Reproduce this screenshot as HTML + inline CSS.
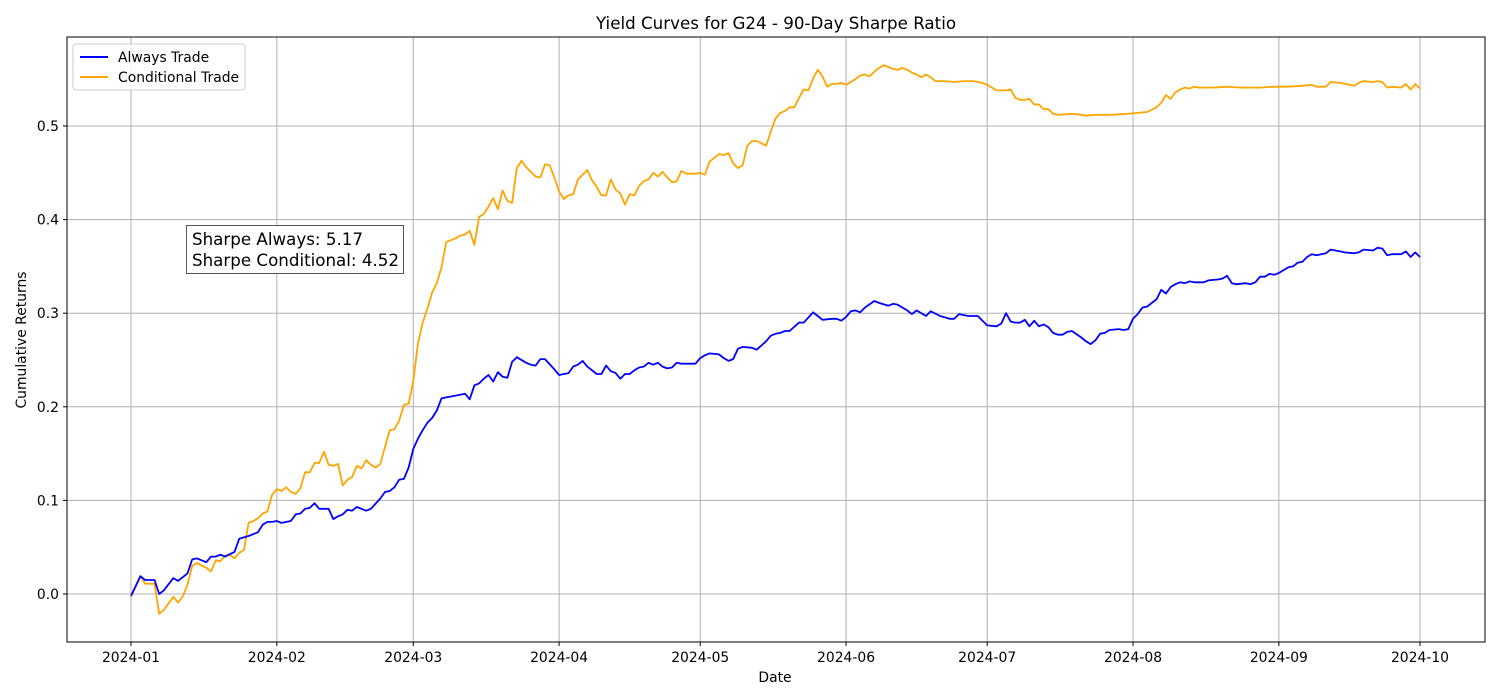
<!DOCTYPE html>
<html><head><meta charset="utf-8"><style>
body{margin:0;background:#fff;}
svg{display:block;font-family:"DejaVu Sans","Liberation Sans",sans-serif;}
</style></head><body>
<svg id="chart" width="1500" height="700" viewBox="0 0 1500 700">
<rect width="1500" height="700" fill="#fff"/>
<text x="776" y="29" font-size="16.7" text-anchor="middle" fill="#000">Yield Curves for G24 - 90-Day Sharpe Ratio</text>
<g id="grid"></g>
<g id="series"></g>
<rect x="67" y="37" width="1418" height="605" fill="none" stroke="#000" stroke-width="1"/>
<g id="ticks"></g>
<text x="775" y="682" font-size="13.9" text-anchor="middle">Date</text>
<text transform="translate(26,340) rotate(-90)" font-size="13.9" text-anchor="middle">Cumulative Returns</text>
<g>
<rect x="73" y="44" width="172" height="46" rx="3" fill="#fff" fill-opacity="0.8" stroke="#ccc"/>
<g>
<line x1="80" y1="57" x2="108" y2="57" stroke="#0000ff" stroke-width="2"/>
<text x="118" y="62" font-size="13.9">Always Trade</text></g>
<g>
<line x1="80" y1="77" x2="108" y2="77" stroke="#ffa500" stroke-width="2"/>
<text x="118" y="82" font-size="13.9">Conditional Trade</text></g>
</g>
<g>
<rect x="186.5" y="225.5" width="217" height="48" fill="#fff" stroke="#555"/>
<text x="192" y="245" font-size="16.7">Sharpe Always: 5.17</text>
<text x="192" y="266" font-size="16.7">Sharpe Conditional: 4.52</text>
</g>
</svg>
<script>
const xTickLabels=["2024-01","2024-02","2024-03","2024-04","2024-05","2024-06","2024-07","2024-08","2024-09","2024-10"];
const xTickDays=[0,31,60,91,121,152,182,213,244,274];
const yTickValues=[0,0.1,0.2,0.3,0.4,0.5];
const yTickLabels=["0.0","0.1","0.2","0.3","0.4","0.5"];
const alwaysDays=[0,2,3,5,6,7,9,10,12,13,14,16,17,18,19,20,22,23,25,27,28,29,30,31,32,34,35,36,37,38,39,40,42,43,44,45,46,47,48,50,51,53,54,55,56,57,58,59,60,61,62,63,64,65,66,67,69,71,72,73,74,75,76,77,78,79,80,81,82,84,85,86,87,88,90,91,93,94,95,96,97,99,100,101,102,103,104,105,106,107,108,109,110,111,112,113,114,115,116,117,120,121,122,123,125,126,127,128,129,130,132,133,135,136,137,138,139,140,142,143,145,146,147,149,150,151,152,153,154,155,156,158,159,161,162,163,165,166,167,169,170,172,174,175,176,178,180,181,182,184,185,186,187,188,189,190,191,192,193,194,195,196,197,198,199,200,202,203,204,205,206,207,208,210,211,212,213,214,215,216,217,218,219,220,221,222,223,224,225,226,228,229,231,232,233,234,235,237,238,239,240,241,242,243,244,245,246,247,248,249,250,251,252,254,255,257,258,260,261,262,264,265,266,267,268,270,271,272,273,274];
const alwaysValues=[-0.002,0.019,0.015,0.015,0.0,0.004,0.017,0.014,0.022,0.037,0.038,0.034,0.040,0.040,0.042,0.040,0.045,0.059,0.062,0.066,0.074,0.077,0.077,0.078,0.076,0.078,0.085,0.086,0.091,0.092,0.097,0.091,0.091,0.080,0.083,0.085,0.090,0.089,0.093,0.089,0.091,0.102,0.109,0.110,0.114,0.122,0.123,0.135,0.155,0.166,0.175,0.183,0.188,0.196,0.209,0.210,0.212,0.214,0.208,0.223,0.225,0.230,0.234,0.227,0.237,0.232,0.231,0.248,0.253,0.247,0.245,0.244,0.251,0.251,0.240,0.234,0.236,0.243,0.245,0.249,0.243,0.235,0.235,0.244,0.238,0.236,0.230,0.235,0.235,0.239,0.242,0.243,0.247,0.245,0.247,0.243,0.241,0.242,0.247,0.246,0.246,0.252,0.255,0.257,0.256,0.252,0.249,0.251,0.262,0.264,0.263,0.261,0.270,0.276,0.278,0.279,0.281,0.281,0.290,0.290,0.301,0.297,0.293,0.294,0.294,0.292,0.296,0.302,0.303,0.301,0.306,0.313,0.311,0.308,0.310,0.309,0.303,0.299,0.303,0.297,0.302,0.297,0.294,0.294,0.299,0.297,0.297,0.292,0.287,0.286,0.289,0.300,0.291,0.290,0.290,0.293,0.286,0.292,0.286,0.288,0.285,0.279,0.277,0.277,0.280,0.281,0.274,0.270,0.267,0.271,0.278,0.279,0.282,0.283,0.282,0.283,0.294,0.299,0.306,0.307,0.311,0.315,0.325,0.321,0.328,0.331,0.333,0.332,0.334,0.333,0.333,0.335,0.336,0.337,0.340,0.332,0.331,0.332,0.331,0.333,0.339,0.339,0.342,0.341,0.343,0.346,0.349,0.350,0.354,0.355,0.360,0.363,0.362,0.364,0.368,0.366,0.365,0.364,0.365,0.368,0.367,0.370,0.369,0.362,0.363,0.363,0.366,0.360,0.365,0.360];
const condDays=[0,2,3,5,6,7,9,10,11,12,13,14,16,17,18,19,20,21,22,23,24,25,26,27,28,29,30,31,32,33,34,35,36,37,38,39,40,41,42,43,44,45,46,47,48,49,50,51,52,53,54,55,56,57,58,59,60,61,62,63,64,65,66,67,68,69,70,71,72,73,74,75,76,77,78,79,80,81,82,83,84,85,86,87,88,89,90,91,92,93,94,95,96,97,98,99,100,101,102,103,104,105,106,107,108,109,110,111,112,113,114,115,116,117,118,120,121,122,123,124,125,126,127,128,129,130,131,132,133,135,136,137,138,139,140,141,142,143,144,145,146,147,148,149,150,151,152,153,154,155,156,157,158,159,160,161,162,163,164,165,166,167,168,169,170,171,173,175,177,179,181,182,183,184,186,187,188,189,190,191,192,193,194,195,196,197,200,202,203,205,208,212,214,216,218,219,220,221,222,223,224,225,226,227,230,233,236,240,243,246,249,251,252,254,255,257,259,260,261,262,264,265,266,267,268,270,271,272,273,274];
const condValues=[-0.003,0.019,0.011,0.011,-0.021,-0.017,-0.003,-0.009,-0.003,0.010,0.030,0.033,0.028,0.024,0.036,0.035,0.041,0.042,0.038,0.044,0.047,0.076,0.078,0.081,0.086,0.088,0.106,0.112,0.110,0.114,0.109,0.107,0.113,0.130,0.130,0.140,0.140,0.152,0.138,0.137,0.139,0.116,0.122,0.125,0.137,0.134,0.143,0.138,0.135,0.139,0.157,0.175,0.176,0.185,0.202,0.203,0.228,0.268,0.290,0.305,0.322,0.332,0.349,0.376,0.378,0.380,0.383,0.384,0.388,0.373,0.403,0.406,0.414,0.423,0.411,0.431,0.420,0.418,0.455,0.463,0.456,0.451,0.446,0.445,0.459,0.458,0.445,0.430,0.422,0.426,0.427,0.443,0.448,0.453,0.442,0.435,0.426,0.426,0.443,0.432,0.428,0.416,0.427,0.426,0.436,0.441,0.443,0.450,0.446,0.451,0.445,0.440,0.441,0.452,0.449,0.449,0.450,0.448,0.462,0.466,0.470,0.469,0.471,0.460,0.455,0.458,0.479,0.484,0.484,0.479,0.494,0.508,0.514,0.516,0.520,0.520,0.530,0.539,0.538,0.551,0.560,0.553,0.542,0.545,0.545,0.546,0.544,0.547,0.550,0.554,0.555,0.553,0.558,0.562,0.565,0.563,0.561,0.560,0.562,0.560,0.557,0.555,0.552,0.555,0.552,0.548,0.548,0.547,0.548,0.548,0.546,0.544,0.541,0.538,0.538,0.539,0.530,0.528,0.528,0.529,0.523,0.523,0.518,0.518,0.513,0.512,0.513,0.512,0.511,0.512,0.512,0.513,0.514,0.515,0.520,0.525,0.533,0.529,0.536,0.539,0.541,0.540,0.542,0.541,0.541,0.542,0.541,0.541,0.542,0.542,0.543,0.544,0.542,0.542,0.547,0.546,0.544,0.543,0.546,0.548,0.547,0.548,0.547,0.541,0.542,0.541,0.545,0.539,0.545,0.540];

const NS="http://www.w3.org/2000/svg";
const X0=131,X1=1420,D1=274,Y0=594,Y5=126;
function xScale(d){return X0+(X1-X0)*d/D1;}
function yScale(v){return Y0+(Y5-Y0)*v/0.5;}
function mk(tag,attrs,parent){const e=document.createElementNS(NS,tag);for(const k in attrs)e.setAttribute(k,attrs[k]);parent.appendChild(e);return e;}
const grid=document.getElementById('grid'),ticks=document.getElementById('ticks'),series=document.getElementById('series');
xTickDays.forEach((d,i)=>{
  const x=xScale(d);
  const g=mk('line',{x1:x,x2:x,y1:37,y2:642,stroke:'#b0b0b0','stroke-width':1},grid);
  
  
  mk('line',{x1:x,x2:x,y1:642,y2:646,stroke:'#000'},ticks);
  const t=mk('text',{x:x,y:662,'font-size':13.9,'text-anchor':'middle'},ticks);
  t.textContent=xTickLabels[i];
  
  
});
yTickValues.forEach((v,i)=>{
  const y=yScale(v);
  const g=mk('line',{x1:67,x2:1485,y1:y,y2:y,stroke:'#b0b0b0','stroke-width':1},grid);
  
  
  mk('line',{x1:63,x2:67,y1:y,y2:y,stroke:'#000'},ticks);
  const t=mk('text',{x:59,y:y+5,'font-size':13.9,'text-anchor':'end'},ticks);
  t.textContent=yTickLabels[i];
  
  
});
function drawLine(days,vals,color,name){
  const pts=days.map((d,i)=>xScale(d).toFixed(1)+','+yScale(vals[i]).toFixed(1)).join(' ');
  const p=mk('polyline',{points:pts,fill:'none',stroke:color,'stroke-width':1.8,'stroke-linejoin':'round'},series);
  
  
}
drawLine(condDays,condValues,'#ffa500','conditional-trade-line');
drawLine(alwaysDays,alwaysValues,'#0000ff','always-trade-line');
</script>
</body></html>
